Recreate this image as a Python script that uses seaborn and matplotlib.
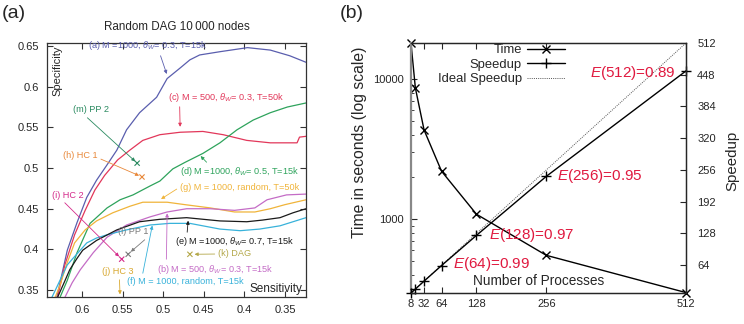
import numpy as np
import pandas as pd
import seaborn as sns
import matplotlib
matplotlib.use("Agg")
import matplotlib.pyplot as plt
from matplotlib.ticker import NullFormatter

sns.set_style("ticks")
plt.rcParams['font.family'] = ['Liberation Sans', 'DejaVu Sans']
plt.rcParams['mathtext.fontset'] = 'custom'
plt.rcParams['mathtext.rm'] = 'Liberation Sans'
plt.rcParams['mathtext.it'] = 'Liberation Sans:italic'

# ---------------- panel (a) data: specificity vs sensitivity ----------------
a_sens = [0.631,0.618,0.606,0.594,0.582,0.569,0.557,0.545,0.529,0.508,0.495,0.479,0.467,0.455,0.430,0.396,0.368,0.344,0.324]
a_spec = [0.341,0.399,0.433,0.464,0.485,0.504,0.522,0.547,0.568,0.587,0.610,0.623,0.633,0.639,0.643,0.648,0.645,0.638,0.630]
c_sens = [0.630,0.621,0.609,0.596,0.584,0.572,0.556,0.541,0.525,0.504,0.479,0.451,0.426,0.397,0.368,0.335,0.332,0.324]
c_spec = [0.341,0.381,0.418,0.448,0.473,0.491,0.510,0.522,0.534,0.541,0.544,0.545,0.541,0.534,0.531,0.531,0.538,0.539]
d_sens = [0.627,0.618,0.606,0.590,0.569,0.553,0.537,0.516,0.504,0.488,0.473,0.451,0.430,0.409,0.389,0.368,0.347,0.324]
d_spec = [0.341,0.362,0.396,0.432,0.451,0.461,0.467,0.478,0.484,0.499,0.507,0.518,0.531,0.547,0.559,0.568,0.575,0.580]
g_sens = [0.633,0.627,0.618,0.609,0.596,0.582,0.562,0.541,0.525,0.495,0.473,0.442,0.412,0.387,0.368,0.350,0.324]
g_spec = [0.341,0.356,0.384,0.408,0.424,0.435,0.445,0.453,0.458,0.458,0.455,0.451,0.446,0.446,0.450,0.455,0.461]
b_sens = [0.621,0.612,0.602,0.586,0.569,0.545,0.516,0.495,0.471,0.442,0.412,0.387,0.372,0.348,0.324]
b_spec = [0.341,0.359,0.375,0.396,0.415,0.430,0.440,0.446,0.450,0.450,0.448,0.451,0.461,0.467,0.468]
e_sens = [0.630,0.622,0.615,0.606,0.599,0.582,0.557,0.529,0.504,0.471,0.430,0.397,0.378,0.356,0.340,0.324]
e_spec = [0.341,0.359,0.375,0.389,0.399,0.411,0.424,0.434,0.437,0.439,0.435,0.434,0.436,0.439,0.445,0.450]
f_sens = [0.637,0.627,0.618,0.611,0.602,0.594,0.582,0.569,0.545,0.516,0.492,0.467,0.430,0.405,0.381,0.356,0.324]
f_spec = [0.341,0.362,0.381,0.389,0.399,0.408,0.414,0.418,0.424,0.430,0.432,0.432,0.425,0.423,0.425,0.429,0.439]

# single-point methods (sensitivity, specificity)
pt_names = ['(m) PP 2', '(h) HC 1', '(i) HC 2', '(l) PP 1', '(k) DAG', '(j) HC 3']
pt_sens = [0.532, 0.526, 0.551, 0.543, 0.467, 0.548]
pt_spec = [0.506, 0.489, 0.388, 0.394, 0.394, 0.338]

# ---------------- panel (b) data ----------------
procs = [8, 16, 32, 64, 128, 256, 512]
time_s = [18000, 8630, 4325, 2200, 1086, 553, 300]
speedup = [8, 16, 32, 63.4, 124.2, 243.2, 455.7]
ideal_x = [8, 512]
ideal_y = [8, 512]
eff_procs = [64, 128, 256, 512]
eff_vals = [0.99, 0.97, 0.95, 0.89]
x_ticks_b = [8, 32, 64, 128, 256, 512]
spd_ticks = [64, 128, 192, 256, 320, 384, 448, 512]

W, H = 744, 324
fig = plt.figure(figsize=(W/100, H/100), dpi=100)

def fp(x, y):
    return (x, H - y)

# ===================== panel (a) =====================
axl = fig.add_axes([47/W, 1-297/H, (306-47)/W, (297-43)/H])
curves = [
    (a_sens, a_spec, '#5a5eae'),
    (c_sens, c_spec, '#e2375a'),
    (d_sens, d_spec, '#2ea35c'),
    (g_sens, g_spec, '#f0b43a'),
    (b_sens, b_spec, '#c46cc6'),
    (f_sens, f_spec, '#38b2da'),
    (e_sens, e_spec, '#1a1a1a'),
]
for xs, ys, col in curves:
    sns.lineplot(x=xs, y=ys, ax=axl, color=col, lw=0.9, sort=False, estimator=None)

pt_cols = ['#2a8a60', '#e8883a', '#d42a8a', '#7a7a7a', '#b4a84a', '#d8a830']
sns.scatterplot(x=pt_sens, y=pt_spec, hue=pt_names, palette=pt_cols, marker='x',
                s=14, linewidth=0.8, ax=axl, legend=False)

axl.set_xlim(0.643, 0.324)
axl.set_ylim(0.3415, 0.6537)
axl.set_xticks([0.6, 0.55, 0.5, 0.45, 0.4, 0.35])
axl.set_xticklabels(['0.6', '0.55', '0.5', '0.45', '0.4', '0.35'])
axl.set_yticks([0.35, 0.4, 0.45, 0.5, 0.55, 0.6, 0.65])
axl.set_yticklabels(['0.35', '0.4', '0.45', '0.5', '0.55', '0.6', '0.65'])
axl.tick_params(direction='in', length=4, width=0.8, labelsize=8, pad=6,
                top=True, right=True, color='#333333')
for s in axl.spines.values():
    s.set_color('#333333'); s.set_linewidth(0.9)
axl.set_title('Random DAG 10\u2009000 nodes', fontsize=8.4, pad=9)
axl.text(57, H-45, 'Specificity', transform=None, rotation=90, ha='center', va='top', fontsize=8)
axl.text(302, H-289, 'Sensitivity', transform=None, ha='right', va='center', fontsize=8.5)

th = r'$\theta_W$'
ann = [
    ('(a) M =1000, ' + th + '= 0.3, T=15k', '#5a5eae', (88, 46), (0.495, 0.614), (0.6, 0.0)),
    ('(c) M = 500, ' + th + '= 0.3, T=50k', '#e2375a', (168, 97), (0.479, 0.549), (0.1, 0.0)),
    ('(m) PP 2', '#2a8a60', (73, 110), (0.533, 0.507), (0.3, 0.0)),
    ('(h) HC 1', '#e8883a', (63, 155), (0.528, 0.490), (1.0, 0.2)),
    ('(d) M =1000, ' + th + '= 0.5, T=15k', '#2ea35c', (180, 172), (0.455, 0.516), (0.25, 1.0)),
    ('(g) M = 1000, random, T=50k', '#f0b43a', (180, 187), (0.504, 0.461), (0.0, 0.5)),
    ('(i) HC 2', '#d42a8a', (52, 195), (0.553, 0.390), (0.3, 0.0)),
    ('(l) PP 1', '#7a7a7a', (118, 232), (0.541, 0.396), (1.0, 0.0)),
    ('(e) M =1000, ' + th + '= 0.7, T=15k', '#1a1a1a', (175, 242), (0.469, 0.437), (0.1, 1.0)),
    ('(k) DAG', '#b4a84a', (218, 254), (0.463, 0.394), (0.0, 0.5)),
    ('(j) HC 3', '#d8a830', (102, 272), (0.553, 0.343), (0.55, 0.0)),
    ('(b) M = 500, ' + th + '= 0.3, T=15k', '#c46cc6', (157, 269), (0.495, 0.446), (0.08, 1.0)),
    ('(f) M = 1000, random, T=15k', '#38b2da', (127, 281), (0.513, 0.431), (0.13, 1.0)),
]
for txt, col, pos, tgt, rp in ann:
    axl.annotate(txt, xy=tgt, xycoords='data', xytext=fp(*pos), textcoords='figure pixels',
                 ha='left', va='center', fontsize=6.6, color=col,
                 arrowprops=dict(arrowstyle='-|>', color=col, lw=0.6, mutation_scale=5,
                                 relpos=rp, shrinkA=0, shrinkB=1))

fig.text(2/W, 1-13/H, '(a)', fontsize=14, ha='left', va='center')
fig.text(340/W, 1-13/H, '(b)', fontsize=14, ha='left', va='center')

# ===================== panel (b) =====================
axr = fig.add_axes([411/W, 1-293/H, (686-411)/W, (293-43)/H])
sns.lineplot(x=procs, y=time_s, ax=axr, color='black', lw=1.0, marker='x',
             markersize=6, markeredgewidth=1.0, markeredgecolor='black',
             label='Time', legend=False, clip_on=False)
axr.set_yscale('log')
axr.set_ylim(298, 18060)
axr.set_xlim(8, 512)
axr.set_xticks(x_ticks_b)
axr.set_xticklabels([str(v) for v in x_ticks_b])
axr.set_yticks([1000, 10000])
axr.set_yticklabels(['1000', '10000'])
axr.yaxis.set_minor_formatter(NullFormatter())
axr.tick_params(axis='x', direction='in', length=4, width=0.8, labelsize=8, pad=4, top=True)
axr.tick_params(axis='y', which='major', direction='in', length=4, width=0.8, labelsize=8, pad=5)
axr.tick_params(axis='y', which='minor', direction='in', length=2.5, width=0.6)
axr.set_ylabel('Time in seconds (log scale)', fontsize=11.3)
axr.yaxis.set_label_coords((367-411)/275, (293-142)/250)

axr2 = axr.twinx()
sns.lineplot(x=ideal_x, y=ideal_y, ax=axr2, color='#555555', lw=0.7, ls=(0, (1, 1.2)),
             label='Ideal Speedup', legend=False)
sns.lineplot(x=procs, y=speedup, ax=axr2, color='black', lw=1.0, marker='+',
             markersize=7, markeredgewidth=1.0, markeredgecolor='black',
             label='Speedup', legend=False, clip_on=False)
axr2.set_ylim(8, 512)
axr2.set_yticks(spd_ticks)
axr2.set_yticklabels([str(v) for v in spd_ticks])
axr2.tick_params(axis='y', direction='in', length=4, width=0.8, labelsize=8, pad=8)
axr2.set_ylabel('Speedup', fontsize=10.8, rotation=90)
axr2.yaxis.set_label_coords((725-411)/275, (293-161)/250)
axr.spines['left'].set_color('#888888'); axr.spines['left'].set_linewidth(1.6)
axr2.spines['left'].set_visible(False)
for k in ['top', 'right', 'bottom']:
    axr.spines[k].set_linewidth(0.9); axr2.spines[k].set_linewidth(0.9)

for p, e, pos in zip(eff_procs, eff_vals, [(453, 264), (489, 235), (557, 176), (590, 73)]):
    fig.text(pos[0]/W, 1-pos[1]/H, r'$E$(%d)=%.2f' % (p, e), color='#e0193f',
             fontsize=11, ha='left', va='center')

axr.text(539/W, 1-281/H, 'Number of Processes', transform=fig.transFigure,
         ha='center', va='center', fontsize=9.8)

h_time = axr.get_lines()[0]
l2 = axr2.get_lines()
h_ideal, h_spd = l2[0], l2[1]
fig.legend([h_time, h_spd, h_ideal], ['Time', 'Speedup', 'Ideal Speedup'],
           loc='upper right', bbox_to_anchor=(565/W, 1-44/H), frameon=False,
           markerfirst=False, fontsize=9.4, handlelength=2.9, handletextpad=0.4,
           labelspacing=0.18, borderpad=0, borderaxespad=0, numpoints=1)

fig.savefig('out.png', dpi=100)
